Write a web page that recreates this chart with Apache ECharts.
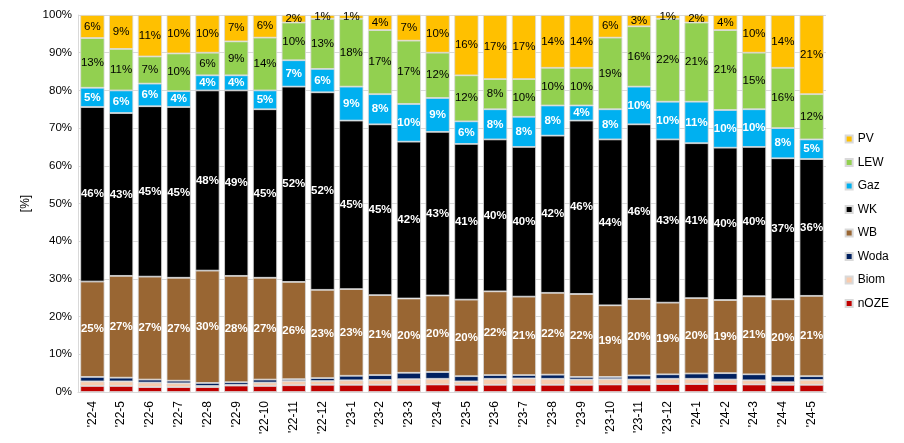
<!DOCTYPE html>
<html><head><meta charset="utf-8">
<script src="https://cdn.jsdelivr.net/npm/echarts@6/dist/echarts.min.js"></script>
<style>html,body{margin:0;padding:0;background:#fff}#c{width:904px;height:443px}</style>
</head><body><div id="c"></div>
<script>
const categories = ["'22-4","'22-5","'22-6","'22-7","'22-8","'22-9","'22-10","'22-11","'22-12","'23-1","'23-2","'23-3","'23-4","'23-5","'23-6","'23-7","'23-8","'23-9","'23-10","'23-11","'23-12","'24-1","'24-2","'24-3","'24-4","'24-5"];
const nOZE = [1.6,1.6,1.3,1.3,1.3,1.7,1.6,1.8,1.9,1.9,1.9,1.9,2.0,1.9,1.9,1.9,1.9,1.9,2.0,2.0,2.1,2.1,2.1,2.0,1.9,1.9];
const Biom = [1.2,1.2,1.2,1.0,0.3,0.2,0.9,1.1,1.0,1.2,1.3,1.5,1.5,0.9,1.6,1.7,1.6,1.4,1.4,1.3,1.4,1.4,1.2,1.1,0.7,1.3];
const Woda = [1.2,1.0,0.8,0.7,0.8,0.7,0.8,0.5,0.8,1.2,1.3,1.7,1.8,1.4,1.0,0.9,1.1,0.7,0.6,1.1,1.2,1.4,1.7,1.6,1.6,1.0];
const WB   = [25.3,27,27.3,27.3,29.8,28.2,27,25.8,23.4,23,21.2,19.7,20.3,20.3,22.2,20.8,21.7,22,19,20.3,19,20,19.4,20.7,20.4,21.3];
const WK   = [46.3,43.2,45.2,45.3,47.8,49.2,44.7,51.8,52.4,44.7,45.3,41.6,43.4,41.3,40.3,39.7,41.7,46,44,46.3,43.3,41.1,40.4,39.6,37.4,36.3];
const Gaz  = [5.1,6,6,4.2,4,4,5,7,6.2,9,8,10,9,6,8,8,8,4,8,10,10,11,10,10,8,5.2];
const LEW  = [13.2,11,7.2,10,6,9,14,10,13.3,18,17,16.8,12,12.2,8,10,10,10,19,16,22,21,21.2,15,16,12];
const PV   = [6.1,9,11,10.2,10,7,6,2,1,1,4,7,10,16,17,17,14,14,6,3,1,2,4,10,14,21];
const yTicks = [0,10,20,30,40,50,60,70,80,90,100];

const font = 'Liberation Sans';
function mk(name, data, color, lbl) {
  const s = {
    name, type: 'bar', stack: 'a', data, barCategoryGap: '16%',
    itemStyle: { color, borderColor: '#d9d9d9', borderWidth: 0.8 },
    label: { show: false }
  };
  if (lbl) {
    s.label = {
      show: true, position: 'inside',
      formatter: p => Math.round(p.value) + '%',
      color: lbl === 'w' ? '#fff' : '#000',
      fontWeight: lbl === 'w' ? 'bold' : 'normal',
      fontSize: 11.5, fontFamily: font
    };
  }
  return s;
}
const chart = echarts.init(document.getElementById('c'), null, { renderer: 'canvas' });
chart.setOption({
  animation: false,
  grid: { left: 78, right: 78, top: 15, bottom: 51 },
  legend: {
    orient: 'vertical', right: 10, top: 128, itemGap: 11.5, itemWidth: 7, itemHeight: 7,
    icon: 'rect',
    textStyle: { fontFamily: font, fontSize: 12, color: '#000' },
    data: ['PV','LEW','Gaz','WK','WB','Woda','Biom','nOZE']
  },
  xAxis: {
    type: 'category', data: categories,
    axisLine: { lineStyle: { color: '#d9d9d9' } },
    axisTick: { show: false },
    axisLabel: { rotate: 90, color: '#000', fontFamily: font, fontSize: 12, margin: 9 }
  },
  yAxis: {
    type: 'value', min: 0, max: 100, interval: 10,
    name: '[%]', nameLocation: 'middle', nameGap: 46, nameRotate: 90,
    nameTextStyle: { fontFamily: font, fontSize: 12, color: '#000' },
    axisLine: { show: true, lineStyle: { color: '#d9d9d9' } },
    axisTick: { show: false },
    splitLine: { lineStyle: { color: '#d9d9d9' } },
    axisLabel: { formatter: v => yTicks.includes(v) ? v + '%' : '', color: '#000', fontFamily: font, fontSize: 11.5, margin: 6 }
  },
  series: [
    mk('nOZE', nOZE, '#C00000'),
    mk('Biom', Biom, '#F8CBAD'),
    mk('Woda', Woda, '#002060'),
    mk('WB', WB, '#996633', 'w'),
    mk('WK', WK, '#000000', 'w'),
    mk('Gaz', Gaz, '#00B0F0', 'w'),
    mk('LEW', LEW, '#92D050', 'b'),
    mk('PV', PV, '#FFC000', 'b')
  ]
});
</script></body></html>
